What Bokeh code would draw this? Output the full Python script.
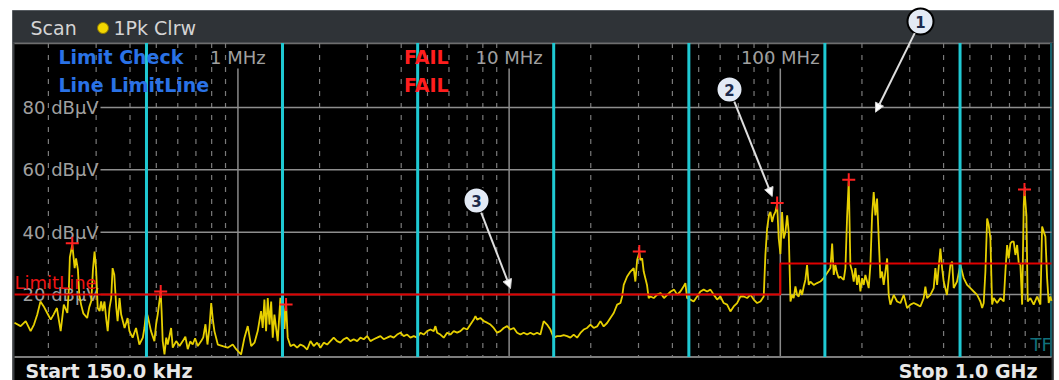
import math
from bokeh.plotting import figure
from bokeh.models import Range1d, LinearScale, NormalHead, Arrow
from bokeh.core.properties import value
from bokeh.embed import file_html
from bokeh.resources import INLINE

# ---------------- data ----------------
F_START, F_STOP = 0.15, 1000.0          # MHz
DB_BOTTOM, DB_TOP = 0.0, 100.0          # dBuV

BAND1_MHZ = [0.150, 0.158, 0.165, 0.172, 0.177, 0.182, 0.187, 0.192, 0.198, 0.204, 0.209, 0.215, 0.222, 0.228, 0.235,
             0.238, 0.240, 0.245, 0.250, 0.253, 0.257, 0.260, 0.264, 0.269, 0.278, 0.283, 0.288, 0.292, 0.296, 0.300,
             0.304, 0.309, 0.313, 0.317, 0.322, 0.327, 0.331, 0.336, 0.341, 0.345, 0.350, 0.356, 0.360, 0.366, 0.371,
             0.382, 0.392, 0.398, 0.409, 0.421, 0.433, 0.446, 0.452, 0.459, 0.465, 0.478, 0.492, 0.499, 0.506, 0.519,
             0.523, 0.528, 0.536, 0.544, 0.551, 0.567, 0.575, 0.592, 0.609, 0.626, 0.640, 0.653, 0.667, 0.681, 0.695,
             0.711, 0.732, 0.745, 0.759, 0.772, 0.785, 0.797, 0.808, 0.819, 0.843, 0.879, 0.917, 0.957, 0.985]
BAND1_DBUV = [11.0, 9.9, 11.5, 8.3, 10.4, 13.6, 17.8, 16.3, 14.1, 12.0, 13.6, 15.7, 8.3, 16.8, 14.1,
              22.0, 32.0, 36.0, 28.5, 31.6, 28.0, 20.0, 16.8, 14.0, 12.5, 16.0, 18.0, 28.0, 33.8, 28.0,
              15.7, 14.7, 17.8, 14.7, 17.8, 12.0, 8.3, 15.7, 18.9, 28.5, 26.4, 15.7, 11.5, 18.9, 13.6,
              9.3, 12.5, 8.3, 6.2, 9.3, 4.0, 6.2, 9.3, 14.7, 13.1, 8.3, 5.1, 10.4, 13.6, 21.0,
              14.7, 5.1, 0.8, 6.2, 4.0, 9.3, 3.0, 5.1, 3.5, 5.1, 6.5, 2.5, 5.0, 4.0, 6.0,
              3.5, 5.1, 6.3, 10.5, 4.0, 9.3, 17.3, 12.0, 8.3, 4.0, 3.5, 3.0, 4.0, 2.5]

BAND2_MHZ = [1.027, 1.057, 1.087, 1.119, 1.151, 1.183, 1.217, 1.234, 1.252, 1.270, 1.288, 1.307, 1.326, 1.344, 1.363,
             1.402, 1.434, 1.453, 1.471, 1.485, 1.505, 1.526, 1.562, 1.606, 1.653, 1.700, 1.748, 1.800, 1.851, 1.903,
             1.959, 2.015, 2.072, 2.133, 2.193, 2.255, 2.321, 2.387, 2.456, 2.523, 2.599, 2.673, 2.752, 2.829, 2.910,
             2.995, 3.080, 3.168, 3.260, 3.353, 3.448, 3.549, 3.650, 3.754, 3.864, 3.974, 4.086, 4.206, 4.326, 4.449,
             4.578, 4.709, 4.842, 4.985, 5.127, 5.272, 5.349, 5.427, 5.580, 5.739, 5.907, 6.076, 6.248, 6.431, 6.614,
             6.802, 7.001, 7.200, 7.405, 7.513, 7.621, 7.839, 8.061, 8.297, 8.533, 8.775, 9.032, 9.288, 9.551, 9.833]
BAND2_DBUV = [0.8, 6.2, 9.9, 3.5, 4.6, 8.3, 14.7, 9.3, 18.4, 8.3, 18.9, 10.4, 17.8, 6.2, 13.6,
              5.1, 19.0, 8.0, 17.0, 9.0, 17.0, 6.2, 3.5, 4.0, 3.0, 4.0, 3.5, 2.4, 5.1, 3.5,
              4.6, 3.0, 4.6, 4.0, 5.1, 6.2, 5.1, 4.6, 5.7, 6.2, 5.1, 5.7, 5.1, 6.2, 5.7,
              6.7, 5.1, 5.7, 6.2, 6.7, 5.7, 6.2, 6.7, 6.2, 7.2, 7.8, 6.7, 7.2, 6.2, 6.7,
              6.2, 7.8, 7.2, 8.3, 8.8, 8.3, 9.9, 7.8, 7.2, 6.2, 7.8, 7.2, 8.3, 7.8, 8.3,
              9.3, 8.8, 10.4, 12.0, 13.1, 12.0, 12.5, 11.5, 11.0, 10.4, 9.3, 7.8, 8.3, 9.3, 9.9]

BAND3_MHZ = [10.11, 10.40, 10.70, 11.01, 11.32, 11.65, 11.98, 12.32, 12.68, 13.04, 13.41, 13.80, 14.20, 14.60, 15.03,
             15.46, 15.90, 16.36, 16.82, 17.30, 17.81, 18.32, 18.84, 19.39, 19.94, 20.51, 21.11, 21.71, 22.32, 22.98,
             23.63, 24.31, 25.02, 25.73, 26.11, 26.46, 27.23, 28.01, 28.80, 29.21, 29.65, 30.20, 30.49, 30.94, 31.35,
             32.24, 32.71, 33.19, 34.14, 35.16, 36.18, 37.24, 38.35, 39.45, 40.58, 41.64, 42.82, 44.03, 44.67, 45.30,
             46.61, 47.93, 49.34, 50.74, 52.18, 53.72, 55.25, 56.81, 58.48, 60.13, 61.84, 63.66, 65.46, 67.32, 69.31,
             71.28, 73.29, 75.45, 77.61, 79.79, 82.14, 84.47, 86.86, 88.10, 89.40, 90.80, 91.95, 93.29, 94.55, 95.91,
             97.34, 98.66]
BAND3_DBUV = [8.8, 9.3, 7.8, 7.2, 7.8, 7.2, 7.8, 7.2, 7.8, 7.2, 11.5, 10.4, 8.8, 6.2, 6.7,
              6.7, 7.0, 6.7, 6.2, 7.2, 6.2, 7.7, 8.8, 9.3, 10.4, 9.3, 9.8, 11.5, 9.8, 10.9,
              12.5, 14.1, 16.8, 17.3, 19.4, 23.1, 25.8, 27.4, 28.5, 24.2, 31.1, 33.5, 31.1, 31.6, 27.4,
              23.1, 18.9, 19.4, 18.9, 20.0, 20.5, 18.9, 20.0, 21.0, 21.6, 20.0, 21.0, 22.7, 23.7, 18.9,
              18.4, 17.8, 19.4, 21.0, 21.6, 21.0, 21.6, 20.0, 18.4, 19.4, 17.3, 16.8, 14.6, 16.2, 17.3,
              19.4, 19.4, 18.9, 20.0, 18.4, 17.3, 17.8, 19.4, 32.7, 41.2, 45.4, 46.5, 43.3, 45.4, 46.5,
              49.0, 38.0]

BAND4_MHZ = [100.1, 101.5, 102.9, 104.4, 106.0, 107.4, 109.0, 110.5, 112.0, 113.7,
             115.3, 116.9, 118.6, 120.3, 122.0, 123.7, 125.5, 127.3, 129.1, 132.8,
             136.6, 140.5, 144.5, 148.8, 153.0, 155.3, 157.4, 159.6, 161.9, 164.2,
             166.5, 171.3, 173.8, 176.3, 178.8, 181.3, 184.0, 186.5, 189.2, 191.9,
             194.6, 197.4, 200.3, 203.0, 205.9, 208.9, 211.8, 214.9, 218.0, 221.0,
             224.2, 227.4, 230.6, 233.9, 237.2, 240.6, 244.1, 247.7, 251.0, 254.6,
             261.9, 269.5, 277.2, 285.2, 293.4, 301.8, 310.4, 319.3, 328.5, 337.9,
             342.7, 347.7, 357.6, 367.8, 373.1, 378.6, 389.3, 395.0, 400.4, 411.7,
             423.8, 430.0, 435.9, 448.5, 461.3, 474.5, 488.4, 502.2, 516.6, 531.8,
             546.8, 555.0, 562.4, 570.5, 579.0, 586.9, 595.2, 604.0, 612.2, 630.2,
             648.0, 666.5, 676.1, 686.0, 695.4, 705.4, 715.7, 725.6, 736.0, 746.9,
             757.1, 768.0, 779.3, 789.9, 795.0, 808.2, 817.2, 836.0, 859.9, 885.0,
             910.1, 923.4, 936.1, 949.5, 963.4, 976.6, 990.7, 1000.0]
BAND4_DBUV = [33.0, 46.5, 38.0, 40.0, 45.4, 40.0, 17.8, 19.9, 18.9, 22.6,
              19.9, 19.4, 21.6, 19.9, 22.6, 24.7, 29.5, 23.1, 24.2, 23.1,
              23.7, 24.2, 25.3, 26.9, 28.5, 36.4, 26.3, 29.5, 26.9, 25.3,
              25.8, 24.7, 28.5, 44.9, 56.5, 29.5, 27.4, 24.2, 28.5, 23.1,
              26.3, 21.0, 25.3, 23.1, 26.3, 24.2, 22.1, 29.5, 45.4, 52.9,
              45.4, 50.8, 38.0, 25.3, 27.4, 23.1, 27.4, 31.6, 19.9, 16.8,
              19.9, 17.8, 17.3, 19.9, 15.7, 16.8, 17.3, 16.8, 16.2, 18.9,
              22.6, 18.9, 19.9, 22.1, 28.5, 23.1, 34.8, 28.5, 24.2, 19.9,
              29.5, 30.6, 22.1, 24.2, 29.5, 25.3, 23.1, 22.1, 21.0, 19.9,
              17.8, 15.7, 17.3, 27.4, 44.4, 42.3, 38.0, 16.8, 18.9, 17.3,
              18.9, 17.8, 27.4, 35.9, 31.6, 36.4, 37.0, 37.0, 32.7, 35.9,
              30.1, 29.5, 16.8, 48.6, 53.5, 45.4, 17.8, 18.9, 16.8, 19.4,
              16.8, 41.8, 40.2, 38.6, 25.3, 17.3, 19.4, 18.0]

TRACE_MHZ = BAND1_MHZ + BAND2_MHZ + BAND3_MHZ + BAND4_MHZ
TRACE_DBUV = BAND1_DBUV + BAND2_DBUV + BAND3_DBUV + BAND4_DBUV

PEAK_MHZ = [0.245, 0.519, 1.505, 30.2, 97.34, 178.8, 795.0]
PEAK_DBUV = [36.5, 21.0, 16.8, 33.8, 49.4, 56.8, 53.7]

LIMIT_MHZ = [0.15, 100.0, 100.0, 1000.0]
LIMIT_DBUV = [20.0, 20.0, 30.0, 30.0]

RANGE_EDGES_MHZ = [0.46, 1.46, 4.6, 14.6, 46.0, 146.0, 460.0]

Y_TICKS = [80, 60, 40, 20]
Y_TICK_LABELS = ["80 dBµV", "60 dBµV", "40 dBµV", "20 dBµV"]
DECADES_MHZ = [1.0, 10.0, 100.0]
DECADE_LABELS = ["1 MHz", "10 MHz", "100 MHz"]
MINOR_MHZ = [m * d for d in (0.1, 1.0, 10.0, 100.0) for m in range(2, 10)]

# ---------------- layout (pixel positions of the page) ----------------
FONT = value("DejaVu Sans")
W, H = 1059, 380
PLOT_L, PLOT_R = 14.0, 1051.0
PLOT_T, PLOT_B = 44.6, 356.5          # rows of 100 dB and 0 dB
FRAME_T = 42.5
BOX_L, BOX_R, BOX_T = 12.0, 1053.0, 10.0

ppd = (PLOT_R - PLOT_L) / math.log10(F_STOP / F_START)
x_lo = F_START * 10 ** (-PLOT_L / ppd)
x_hi = F_STOP * 10 ** ((W - PLOT_R) / ppd)
ppdb = (PLOT_B - PLOT_T) / (DB_TOP - DB_BOTTOM)
y_lo = DB_BOTTOM - (H - PLOT_B) / ppdb
y_hi = DB_TOP + PLOT_T / ppdb

p = figure(width=W, height=H, x_axis_type="log",
           x_range=Range1d(x_lo, x_hi), y_range=Range1d(y_lo, y_hi),
           x_axis_location=None, y_axis_location=None, title=None,
           toolbar_location=None, output_backend="svg", min_border=0,
           background_fill_color="white", border_fill_color="white",
           outline_line_color=None)
p.extra_x_ranges = {"px": Range1d(0, W)}
p.extra_y_ranges = {"px": Range1d(H, 0)}
p.extra_x_scales = {"px": LinearScale()}
p.extra_y_scales = {"px": LinearScale()}
p.xgrid.visible = False
p.ygrid.visible = False

PX = dict(x_range_name="px", y_range_name="px")
TXT = dict(text_font=FONT, text_baseline="middle")

# instrument frame
p.quad(left=[BOX_L], right=[BOX_R], top=[FRAME_T], bottom=[H], fill_color="black", line_color=None, **PX)
p.quad(left=[BOX_L], right=[BOX_R], top=[BOX_T], bottom=[FRAME_T], fill_color="#2f3337",
       line_color="#565b60", line_width=1, **PX)
p.quad(left=[BOX_L], right=[PLOT_L], top=[FRAME_T], bottom=[H], fill_color="#3b3f43", line_color=None, **PX)
p.quad(left=[PLOT_R], right=[BOX_R], top=[FRAME_T], bottom=[H], fill_color="#2a2e31", line_color=None, **PX)
p.segment(x0=[PLOT_L], x1=[PLOT_R], y0=[FRAME_T + 0.4], y1=[FRAME_T + 0.4], line_color="#6e6e6e",
          line_width=1.5, **PX)
p.segment(x0=[PLOT_R - 0.5], x1=[PLOT_R - 0.5], y0=[FRAME_T], y1=[PLOT_B], line_color="#175f69",
          line_width=2, **PX)

# grid
p.segment(x0=MINOR_MHZ, x1=MINOR_MHZ, y0=[FRAME_T] * len(MINOR_MHZ), y1=[PLOT_B] * len(MINOR_MHZ),
          y_range_name="px", line_color="#7a7a7a", line_width=1.2, line_dash="5 7")
p.segment(x0=DECADES_MHZ, x1=DECADES_MHZ, y0=[68] * 3, y1=[PLOT_B] * 3,
          y_range_name="px", line_color="#8a8a8a", line_width=1.5)
p.segment(x0=[100] * len(Y_TICKS), x1=[PLOT_R] * len(Y_TICKS), y0=Y_TICKS, y1=Y_TICKS,
          x_range_name="px", line_color="#8e8e8e", line_width=1.5)
p.segment(x0=[PLOT_L], x1=[PLOT_R], y0=[DB_BOTTOM], y1=[DB_BOTTOM], x_range_name="px",
          line_color="#7c7c7c", line_width=2)
p.text(x=[22] * len(Y_TICKS), y=Y_TICKS, text=Y_TICK_LABELS, x_range_name="px",
       text_font_size="18px", text_color="#a0a0a0", text_align="left", **TXT)

# trace
p.line(TRACE_MHZ, TRACE_DBUV, line_color="#e6cf00", line_width=1.8)

# sub-range boundaries
p.segment(x0=RANGE_EDGES_MHZ, x1=RANGE_EDGES_MHZ, y0=[FRAME_T] * len(RANGE_EDGES_MHZ),
          y1=[PLOT_B] * len(RANGE_EDGES_MHZ), y_range_name="px", line_color="#1fc9d3", line_width=3)

# limit line
p.line(LIMIT_MHZ, LIMIT_DBUV, line_color="#e00000", line_width=2)
p.text(x=[PLOT_L], y=[282], text=["LimitLine"], text_font_size="18px",
       text_color="#ee1414", text_align="left", **TXT, **PX)

# peak markers
p.scatter(PEAK_MHZ, PEAK_DBUV, marker="cross", size=13, line_color="#ff2020", line_width=2)

# decade labels
p.text(x=DECADES_MHZ, y=[56.5] * 3, text=DECADE_LABELS, y_range_name="px",
       text_font_size="18px", text_color="#a0a0a0", text_align="center", **TXT)

# limit check texts
p.text(x=[58, 58], y=[56, 84], text=["Limit Check", "Line LimitLine"],
       text_font_size="19px", text_font_style="bold", text_color="#2a72e6",
       text_align="left", **TXT, **PX)
p.text(x=[403.5, 403.5], y=[56, 84], text=["FAIL", "FAIL"],
       text_font_size="19px", text_font_style="bold", text_color="#ff1e1e",
       text_align="left", **TXT, **PX)

# header
p.text(x=[30], y=[27], text=["Scan"], text_font_size="19px", text_color="#d4d4d4",
       text_align="left", **TXT, **PX)
p.scatter(x=[102.5], y=[27.5], marker="circle", size=11, fill_color="#f2d600", line_color="#8a7800",
          line_width=1, **PX)
p.text(x=[113], y=[27], text=["1Pk Clrw"], text_font_size="19px", text_color="#d4d4d4",
       text_align="left", **TXT, **PX)

# footer
p.text(x=[25], y=[370], text=["Start 150.0 kHz"], text_font_size="19px",
       text_font_style="bold", text_color="#e8e8e8", text_align="left", **TXT, **PX)
p.text(x=[1037], y=[370], text=["Stop 1.0 GHz"], text_font_size="19px",
       text_font_style="bold", text_color="#e8e8e8", text_align="right", **TXT, **PX)
p.text(x=[1030], y=[344], text=["TF"], text_font_size="18px", text_color="#10707c",
       text_align="left", **TXT, **PX)

# callouts
CALLOUT_X = [920, 729, 476]
CALLOUT_Y = [21, 89, 200]
ARROW_START = [(914.2, 32.6), (733.8, 101.1), (480.7, 212.1)]
ARROW_END = [(875, 111.7), (771.7, 196), (510, 288)]
for (xs, ys), (xe, ye) in zip(ARROW_START, ARROW_END):
    p.add_layout(Arrow(x_start=xs, y_start=ys, x_end=xe, y_end=ye, line_color="#dedede", line_width=2,
                       end=NormalHead(size=9, fill_color="white", line_color="#cfcfcf", line_width=1), **PX))
p.scatter(x=CALLOUT_X, y=CALLOUT_Y, marker="circle", size=26, fill_color="#e3eaf5",
          line_color="black", line_width=2, **PX)
p.text(x=CALLOUT_X, y=CALLOUT_Y, text=["1", "2", "3"], text_font_size="15px",
       text_font_style="bold", text_color="#1d2b4c", text_align="center", **TXT, **PX)

open("out.html", "w").write(file_html(p, INLINE))
